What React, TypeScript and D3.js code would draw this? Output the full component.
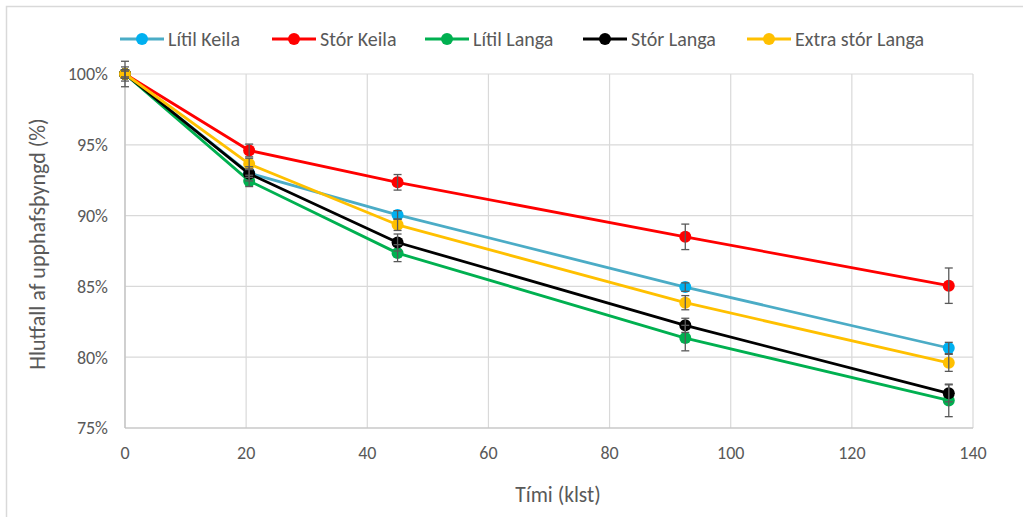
import React from 'react';
import * as d3 from 'd3';

// Time points (klst) and measured share of initial weight (%)
const times = [0, 20.5, 45, 92.5, 136];

const seriesNames = ['Lítil Keila', 'Stór Keila', 'Lítil Langa', 'Stór Langa', 'Extra stór Langa'];
const litilKeila = [100, 93.0, 90.05, 84.95, 80.65];
const storKeila = [100, 94.6, 92.35, 88.5, 85.05];
const litilLanga = [100, 92.45, 87.35, 81.35, 76.95];
const storLanga = [100, 92.95, 88.1, 82.25, 77.45];
const extraStorLanga = [100, 93.65, 89.35, 83.85, 79.6];

// Standard deviation shown as error bars
const litilKeilaErr = [0.2, 0.3, 0.3, 0.3, 0.4];
const storKeilaErr = [0.3, 0.45, 0.55, 0.9, 1.25];
const litilLangaErr = [0.5, 0.4, 0.6, 0.9, 1.15];
const storLangaErr = [0.9, 0.5, 0.6, 0.5, 0.6];
const extraStorLangaErr = [0.3, 0.4, 0.4, 0.5, 0.6];

const xTicks = [0, 20, 40, 60, 80, 100, 120, 140];
const yTicks = [75, 80, 85, 90, 95, 100];

const lineColors = ['#4BACC6', '#FF0000', '#00B050', '#000000', '#FFC000'];
const markerColors = ['#00B0F0', '#FF0000', '#00B050', '#000000', '#FFC000'];

const FONT = "Carlito, Calibri, 'Liberation Sans Narrow', 'DejaVu Sans Condensed', sans-serif";
const TEXT = '#595959';

const App = () => {
  const width = 1023;
  const height = 517;
  const left = 125, right = 973, top = 74, bottom = 428;

  const x = d3.scaleLinear().domain([0, 140]).range([left, right]);
  const y = d3.scaleLinear().domain([75, 100]).range([bottom, top]);

  const values = [litilKeila, storKeila, litilLanga, storLanga, extraStorLanga];
  const errs = [litilKeilaErr, storKeilaErr, litilLangaErr, storLangaErr, extraStorLangaErr];

  const line = d3.line<number>()
    .x((_, i) => x(times[i]))
    .y(d => y(d));

  const legendX = [120, 272, 425, 583, 747];

  return (
    <svg width={width} height={height} style={{ position: 'absolute', left: 0, top: 0, background: '#fff' }}
      fontFamily={FONT}>
      <rect x={6.5} y={6.5} width={1030} height={520} fill="#fff" stroke="#D9D9D9" strokeWidth={1.5} />

      {/* grid */}
      {yTicks.map(t => (
        <line key={'gy' + t} x1={left} x2={right} y1={y(t)} y2={y(t)} stroke="#D9D9D9" strokeWidth={1.2} />
      ))}
      {xTicks.map(t => (
        <line key={'gx' + t} x1={x(t)} x2={x(t)} y1={top} y2={bottom} stroke="#D9D9D9" strokeWidth={1.2} />
      ))}
      <line x1={left} x2={right} y1={bottom} y2={bottom} stroke="#BFBFBF" strokeWidth={1.2} />
      <line x1={left} x2={left} y1={top} y2={bottom} stroke="#BFBFBF" strokeWidth={1.2} />

      {/* tick labels */}
      {yTicks.map(t => (
        <text key={'ty' + t} x={left - 17} y={y(t)} dy="0.35em" textAnchor="end" fontSize={18} fill={TEXT}>
          {t + '%'}
        </text>
      ))}
      {xTicks.map(t => (
        <text key={'tx' + t} x={x(t)} y={bottom + 25} dy="0.35em" textAnchor="middle" fontSize={18} fill={TEXT}>
          {t}
        </text>
      ))}

      {/* axis titles */}
      <text x={558} y={494} dy="0.35em" textAnchor="middle" fontSize={21.5} fill={TEXT}>Tími (klst)</text>
      <text transform={`translate(37,${(top + bottom) / 2 - 7}) rotate(-90)`} dy="0.35em" textAnchor="middle"
        fontSize={22} fill={TEXT}>Hlutfall af upphafsþyngd (%)</text>

      {/* series */}
      {values.map((v, s) => (
        <g key={'s' + s}>
          <path d={line(v) || ''} fill="none" stroke={lineColors[s]} strokeWidth={2.8} strokeLinejoin="round" />
          {v.map((d, i) => (
            <circle key={i} cx={x(times[i])} cy={y(d)} r={6} fill={markerColors[s]} />
          ))}
        </g>
      ))}

      {/* error bars */}
      {values.map((v, s) => (
        <g key={'e' + s} stroke="#595959" strokeWidth={1.3}>
          {v.map((d, i) => {
            const cx = x(times[i]);
            const y1 = y(d + errs[s][i]);
            const y2 = y(d - errs[s][i]);
            return (
              <g key={i}>
                <line x1={cx} x2={cx} y1={y1} y2={y2} />
                <line x1={cx - 4} x2={cx + 4} y1={y1} y2={y1} />
                <line x1={cx - 4} x2={cx + 4} y1={y2} y2={y2} />
              </g>
            );
          })}
        </g>
      ))}

      {/* legend */}
      {seriesNames.map((name, s) => (
        <g key={'l' + s} transform={`translate(${legendX[s]},39)`}>
          <line x1={0} x2={44} y1={0} y2={0} stroke={lineColors[s]} strokeWidth={2.8} />
          <circle cx={22} cy={0} r={6} fill={markerColors[s]} />
          <text x={48} y={0} dy="0.35em" fontSize={20} fill={TEXT}>{name}</text>
        </g>
      ))}
    </svg>
  );
};

export default App;
